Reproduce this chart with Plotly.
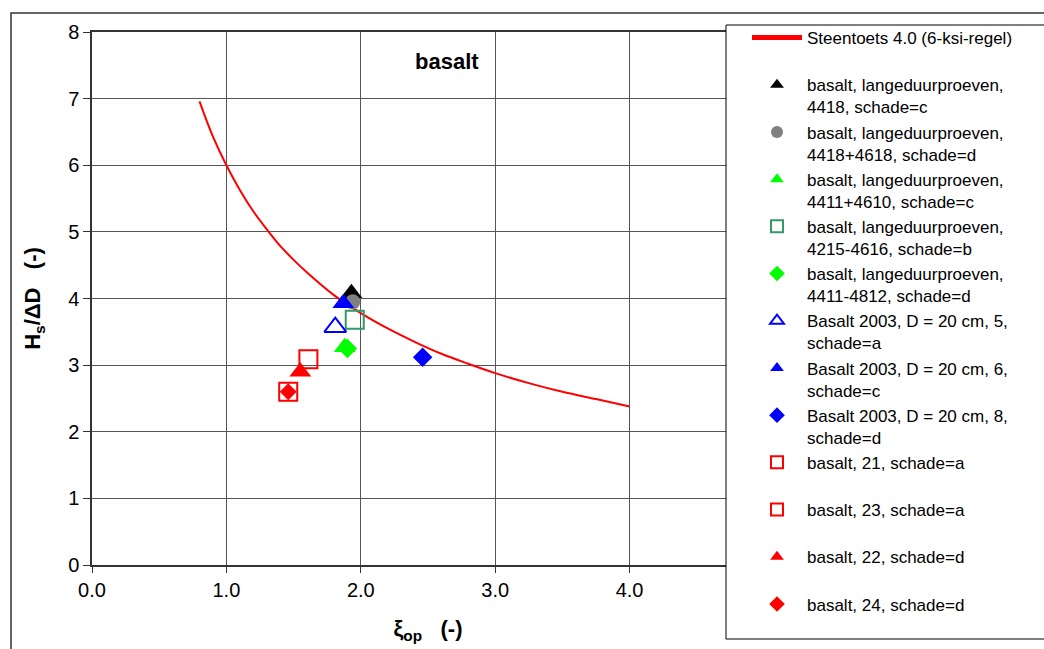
import plotly.graph_objects as go

# Steentoets curve
curve_x = [0.8, 0.9, 1.0, 1.1, 1.2, 1.3, 1.4, 1.5, 1.6, 1.8, 2.0, 2.2, 2.4, 2.6, 2.8, 3.0, 3.25, 3.5, 3.75, 4.0]
curve_y = [6.96, 6.43, 6.00, 5.63, 5.31, 5.04, 4.79, 4.58, 4.39, 4.05, 3.78, 3.55, 3.35, 3.17, 3.02, 2.88, 2.73, 2.60, 2.49, 2.38]

series_names = [
    "basalt, langeduurproeven,<br>4418, schade=c",
    "basalt, langeduurproeven,<br>4418+4618, schade=d",
    "basalt, langeduurproeven,<br>4411+4610, schade=c",
    "basalt, langeduurproeven,<br>4215-4616, schade=b",
    "basalt, langeduurproeven,<br>4411-4812, schade=d",
    "Basalt 2003, D = 20 cm, 5,<br>schade=a",
    "Basalt 2003, D = 20 cm, 6,<br>schade=c",
    "Basalt 2003, D = 20 cm, 8,<br>schade=d",
    "basalt, 21, schade=a<br> ",
    "basalt, 23, schade=a<br> ",
    "basalt, 22, schade=d<br> ",
    "basalt, 24, schade=d<br> ",
]
series_x = [1.93, 1.94, 1.88, 1.955, 1.90, 1.81, 1.87, 2.46, 1.61, 1.46, 1.55, 1.46]
series_y = [4.08, 3.95, 3.27, 3.68, 3.25, 3.57, 3.93, 3.12, 3.09, 2.60, 2.90, 2.60]
series_symbols = ["triangle-up", "circle", "triangle-up", "square-open", "diamond",
                  "triangle-up-open", "triangle-up", "diamond", "square-open",
                  "square-open", "triangle-up", "diamond"]
series_colors = ["#000000", "#808080", "#00FF00", "#339966", "#00FF00", "#0000FF",
                 "#0000FF", "#0000FF", "#FF0000", "#FF0000", "#FF0000", "#FF0000"]
series_sizes = [19, 15, 19, 18, 15, 19, 19, 15, 18, 18, 19, 13]

x_ticks = [0, 1, 2, 3, 4]
x_ticklabels = ["0.0", "1.0", "2.0", "3.0", "4.0"]
y_ticks = [0, 1, 2, 3, 4, 5, 6, 7, 8]

FONT = "Liberation Sans, Arial, sans-serif"

fig = go.Figure()
fig.add_trace(go.Scatter(x=curve_x, y=curve_y, mode="lines",
                         line=dict(color="#FF0000", width=2, shape="spline"),
                         name="Steentoets 4.0 (6-ksi-regel)<br> "))
for n, x, y, s, c, sz in zip(series_names, series_x, series_y, series_symbols, series_colors, series_sizes):
    is_open = s.endswith("open")
    fig.add_trace(go.Scatter(
        x=[x], y=[y], mode="markers", name=n,
        marker=dict(symbol=s, size=sz, color=c,
                    line=dict(color=c, width=2 if is_open else 0)),
    ))

L, R, T, B = 92, 764, 32, 565
W, H = 1044, 649
def px(xp):
    return (xp - L) / (R - L)
def py(yp):
    return (B - yp) / (B - T)

fig.update_layout(
    width=W, height=H,
    margin=dict(l=L, r=W - R, t=T, b=H - B),
    paper_bgcolor="white", plot_bgcolor="white",
    font=dict(family=FONT, color="black"),
    showlegend=True,
    legend=dict(x=px(747), y=py(20), xanchor="left", yanchor="top",
                bgcolor="rgba(0,0,0,0)", borderwidth=0,
                font=dict(size=17, family=FONT, color="black"),
                valign="top", itemwidth=50, itemsizing="constant",
                tracegroupgap=0, maxheight=700),
    xaxis=dict(range=[0, 5], tickvals=x_ticks, ticktext=x_ticklabels,
               showgrid=True, gridcolor="#555555", gridwidth=1,
               showline=True, linecolor="#333333", linewidth=1.5, mirror=True,
               ticks="outside", ticklen=6, tickcolor="#333333",
               tickfont=dict(size=20, family=FONT), zeroline=False,
               title=dict(text="<b>ξ<sub>op</sub>&nbsp;&nbsp; (-)</b>", font=dict(size=22, family=FONT), standoff=21)),
    yaxis=dict(range=[0, 8], tickvals=y_ticks,
               showgrid=True, gridcolor="#555555", gridwidth=1,
               showline=True, linecolor="#333333", linewidth=1.5, mirror=True,
               ticks="outside", ticklen=7, tickcolor="#333333",
               tickfont=dict(size=20, family=FONT), zeroline=False,
               title=dict(text="<b>H<sub>s</sub>/ΔD&nbsp;&nbsp; (-)</b>", font=dict(size=22, family=FONT), standoff=21)),
    annotations=[dict(x=2.64, y=7.55, xref="x", yref="y", text="<b>basalt</b>",
                      showarrow=False, font=dict(size=22, family=FONT, color="black"))],
    shapes=[
        dict(type="rect", xref="paper", yref="paper",
             x0=px(11), x1=px(1060), y0=py(670), y1=py(13),
             line=dict(color="#333333", width=1.5), fillcolor="rgba(0,0,0,0)", layer="above"),
        dict(type="rect", xref="paper", yref="paper",
             x0=px(726), x1=px(1060), y0=py(639), y1=py(25),
             line=dict(color="#000000", width=1), fillcolor="white", layer="above"),
    ],
)

fig.write_html("out.html")
